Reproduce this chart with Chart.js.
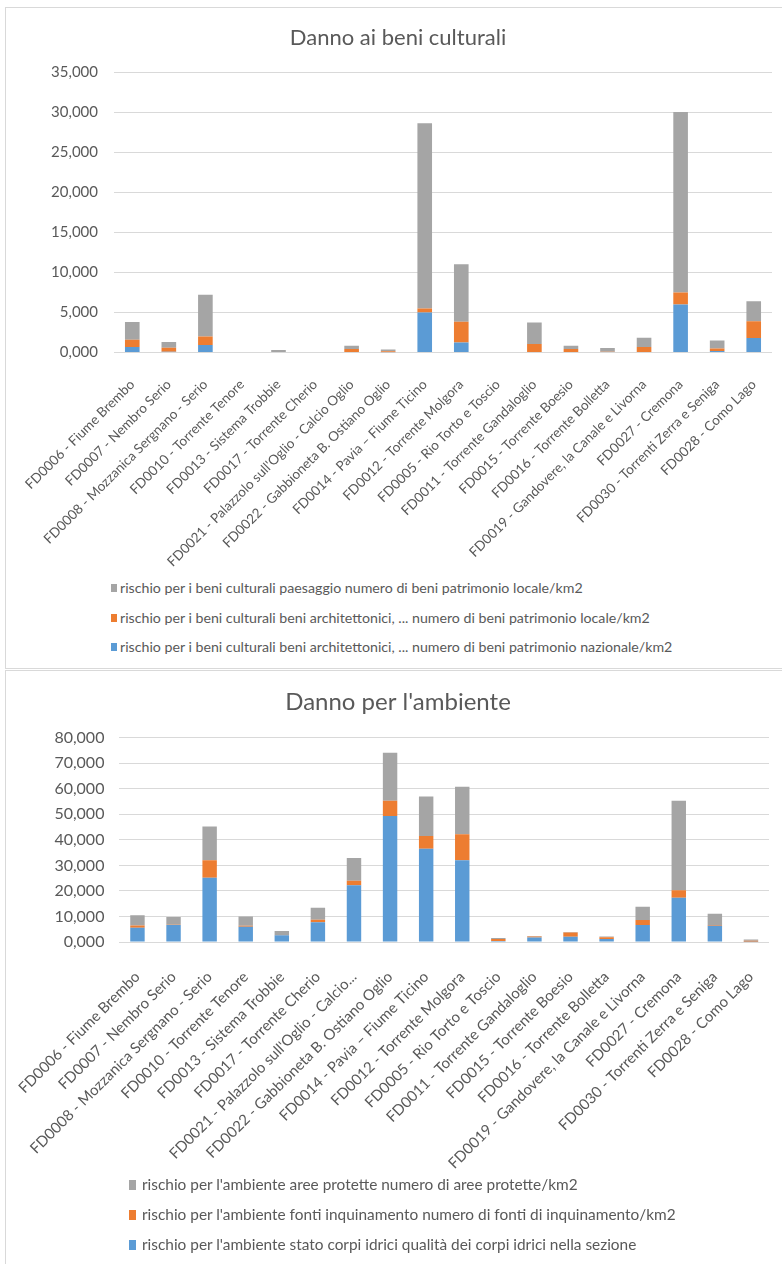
<!DOCTYPE html>
<html>
<head>
<meta charset="utf-8">
<script src="https://cdn.jsdelivr.net/npm/chart.js@4.4.1/dist/chart.umd.min.js"></script>
<style>
  body { margin: 0; background: #fff; font-family: Lato, sans-serif; }
  .panel { position: absolute; left: 5px; width: 800px; border: 1px solid #d9d9d9; box-sizing: border-box; }
  #panel1 { top: 7px; height: 662px; }
  #panel2 { top: 670px; height: 620px; }
  canvas { position: absolute; left: 0; }
  #c1 { top: 0; }
  #c2 { top: 668px; }
  .legend { position: absolute; color: #595959; }
  .legend div { position: relative; white-space: nowrap; }
  .legend span { position: absolute; left: 0; }
  #leg1 { left: 111px; top: 579px; font-size: 14.2px; }
  #leg1 div { height: 29.5px; padding-left: 9px; }
  #leg1 span { top: 5px; width: 6px; height: 8px; }
  #leg2 { left: 129px; top: 1175px; font-size: 15.4px; }
  #leg2 div { height: 30px; padding-left: 13px; }
  #leg2 span { top: 4.5px; width: 7px; height: 10px; }
</style>
</head>
<body>
<div class="panel" id="panel1"></div>
<div class="panel" id="panel2"></div>
<canvas id="c1" width="782" height="570"></canvas>
<canvas id="c2" width="782" height="512"></canvas>
<div class="legend" id="leg1"></div>
<div class="legend" id="leg2"></div>
<script>
// categories (same order in both charts)
const categories = [
  'FD0006 - Fiume Brembo',
  'FD0007 - Nembro Serio',
  'FD0008 - Mozzanica Sergnano - Serio',
  'FD0010 - Torrente Tenore',
  'FD0013 - Sistema Trobbie',
  'FD0017 - Torrente Cherio',
  "FD0021 - Palazzolo sull'Oglio - Calcio Oglio",
  'FD0022 - Gabbioneta B. Ostiano Oglio',
  'FD0014 - Pavia – Fiume Ticino',
  'FD0012 - Torrente Molgora',
  'FD0005 - Rio Torto e Toscio',
  'FD0011 - Torrente Gandaloglio',
  'FD0015 - Torrente Boesio',
  'FD0016 - Torrente Bolletta',
  'FD0019 - Gandovere, la Canale e Livorna',
  'FD0027 - Cremona',
  'FD0030 - Torrenti Zerra e Seniga',
  'FD0028 - Como Lago'
];
// the second chart cuts the longest name short
const categoriesAmb = categories.map(c => c.length > 40 ? c.slice(0, 38) + '...' : c);

// Danno ai beni culturali
const culNazionale = [700, 80, 950, 0, 0, 0, 50, 20, 5000, 1250, 0, 0, 0, 0, 50, 6000, 200, 1800];
const culLocale    = [900, 500, 1050, 0, 50, 0, 400, 150, 500, 2600, 0, 1050, 450, 100, 650, 1500, 300, 2100];
const culPaesaggio = [2200, 720, 5200, 0, 250, 0, 400, 200, 23100, 7150, 0, 2700, 400, 450, 1150, 22500, 1000, 2500];
const culTicks = ['0,000', '5,000', '10,000', '15,000', '20,000', '25,000', '30,000', '35,000'];
const culLabels = [
  'rischio per i beni culturali beni architettonici, ... numero di beni patrimonio nazionale/km2',
  'rischio per i beni culturali beni architettonici, ... numero di beni patrimonio locale/km2',
  'rischio per i beni culturali paesaggio numero di beni patrimonio locale/km2'
];

// Danno per l'ambiente
const ambIdrici = [5600, 6700, 25200, 6000, 2600, 7700, 22200, 49300, 36500, 32000, 400, 1800, 2100, 1150, 6700, 17300, 6400, 100];
const ambFonti  = [900, 100, 6800, 400, 100, 1000, 1800, 6000, 5000, 10200, 800, 400, 1600, 700, 1900, 3000, 300, 400];
const ambAree   = [4000, 3000, 13200, 3600, 1600, 4700, 8900, 18800, 15500, 18600, 400, 150, 250, 350, 5200, 35000, 4400, 500];
const ambTicks = ['0,000', '10,000', '20,000', '30,000', '40,000', '50,000', '60,000', '70,000', '80,000'];
const ambLabels = [
  "rischio per l'ambiente stato corpi idrici qualità dei corpi idrici nella sezione",
  "rischio per l'ambiente fonti inquinamento numero di fonti di inquinamento/km2",
  "rischio per l'ambiente aree protette numero di aree protette/km2"
];

const colors = ['#5b9bd5', '#ed7d31', '#a5a5a5'];
const textColor = '#595959';
Chart.defaults.font.family = 'Lato, sans-serif';
Chart.defaults.color = textColor;

function makeChart(id, cfg) {
  const datasets = cfg.series.map((s, i) => ({
    label: cfg.labels[i],
    data: s,
    backgroundColor: colors[i],
    barPercentage: 0.4,
    categoryPercentage: 1
  }));
  return new Chart(document.getElementById(id), {
    type: 'bar',
    data: { labels: cfg.categories, datasets },
    options: {
      responsive: false,
      animation: false,
      devicePixelRatio: 1,
      layout: { padding: { left: cfg.padLeft, right: cfg.padRight, top: 0, bottom: 0 } },
      plugins: {
        legend: { display: false },
        tooltip: { enabled: false },
        title: {
          display: true,
          text: cfg.title,
          color: textColor,
          font: { size: cfg.titleSize, weight: 'normal' },
          padding: cfg.titlePad
        }
      },
      scales: {
        x: {
          stacked: true,
          grid: { display: false },
          border: { display: false },
          ticks: { autoSkip: false, minRotation: 45, maxRotation: 45, padding: cfg.xPad, font: { size: cfg.xFont }, color: textColor },
          afterFit: s => { s.height = cfg.xHeight; }
        },
        y: {
          stacked: true,
          min: 0,
          max: cfg.max,
          grid: { color: '#d9d9d9', drawTicks: false },
          border: { display: false },
          ticks: {
            stepSize: cfg.step,
            padding: cfg.yPad,
            font: { size: cfg.yFont },
            color: textColor,
            callback: (v, i) => cfg.ticks[i]
          },
          afterFit: s => { s.width = cfg.yWidth; }
        }
      }
    }
  });
}

makeChart('c1', {
  categories, series: [culNazionale, culLocale, culPaesaggio], labels: culLabels,
  title: 'Danno ai beni culturali', titleSize: 22, titlePad: { top: 24.8, bottom: 20.8 },
  max: 35000, step: 5000, ticks: culTicks,
  padLeft: 24, yWidth: 90, padRight: 10, xHeight: 217.5, xPad: 16, xFont: 13.5, yFont: 15, yPad: 16
});

makeChart('c2', {
  categories: categoriesAmb, series: [ambIdrici, ambFonti, ambAree], labels: ambLabels,
  title: "Danno per l'ambiente", titleSize: 24, titlePad: { top: 19.6, bottom: 21.3 },
  max: 80000, step: 10000, ticks: ambTicks,
  padLeft: 26, yWidth: 93, padRight: 12, xHeight: 238, xPad: 18, xFont: 15, yFont: 16, yPad: 15
});

// legends, listed top series first like the original
function fillLegend(id, labels) {
  const box = document.getElementById(id);
  for (let i = labels.length - 1; i >= 0; i--) {
    const row = document.createElement('div');
    const sw = document.createElement('span');
    sw.style.background = colors[i];
    row.appendChild(sw);
    row.appendChild(document.createTextNode(labels[i]));
    box.appendChild(row);
  }
}
fillLegend('leg1', culLabels);
fillLegend('leg2', ambLabels);
</script>
</body>
</html>
